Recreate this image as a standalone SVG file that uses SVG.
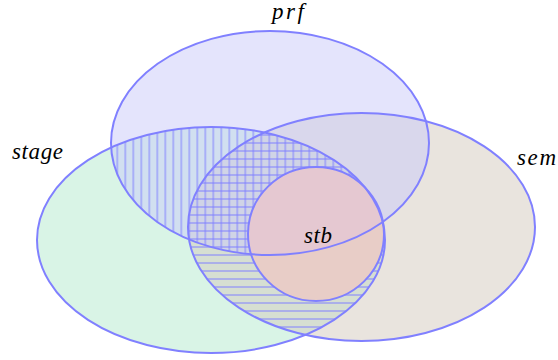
<svg xmlns="http://www.w3.org/2000/svg" xmlns:xlink="http://www.w3.org/1999/xlink" width="558" height="360" viewBox="0 0 558 360">
<style>
.outline{fill:none;stroke:#8080ff;stroke-width:2}
.hatch{stroke:#8080ff;stroke-width:1;fill:none}
.lbl{font-family:"Liberation Serif","DejaVu Serif","Times New Roman",serif;font-style:italic;font-size:23px;fill:#000}
.f{fill-opacity:0.5;stroke:none}
</style>
<defs>
<ellipse id="e-stage" cx="211" cy="240" rx="174" ry="113"/>
<ellipse id="e-sem" cx="361.5" cy="227" rx="173.5" ry="114"/>
<ellipse id="e-prf" cx="270" cy="143" rx="159" ry="112"/>
<ellipse id="e-stb" cx="316" cy="234" rx="68" ry="67"/>
<clipPath id="c-stage"><use xlink:href="#e-stage"/></clipPath>
<clipPath id="c-sem"><use xlink:href="#e-sem"/></clipPath>
<clipPath id="c-prf"><use xlink:href="#e-prf"/></clipPath>
<mask id="m-vert" maskUnits="userSpaceOnUse" x="0" y="0" width="558" height="360">
<rect width="558" height="360" fill="#fff"/>
<use xlink:href="#e-sem" fill="#000"/>
</mask>
<mask id="m-grid" maskUnits="userSpaceOnUse" x="0" y="0" width="558" height="360">
<rect width="558" height="360" fill="#fff"/>
<use xlink:href="#e-stb" fill="#000"/>
</mask>
<mask id="m-hor" maskUnits="userSpaceOnUse" x="0" y="0" width="558" height="360">
<rect width="558" height="360" fill="#fff"/>
<use xlink:href="#e-prf" fill="#000"/>
<use xlink:href="#e-stb" fill="#000"/>
</mask>
<pattern id="p-vert" patternUnits="userSpaceOnUse" x="1.3" y="0" width="8" height="8">
<line class="hatch" x1="4" y1="0" x2="4" y2="8"/>
</pattern>
<pattern id="p-hor" patternUnits="userSpaceOnUse" x="0" y="3" width="8" height="8">
<line class="hatch" x1="0" y1="4" x2="8" y2="4"/>
</pattern>
<pattern id="p-grid" patternUnits="userSpaceOnUse" x="1.3" y="3" width="8" height="8">
<line class="hatch" x1="4" y1="0" x2="4" y2="8"/>
<line class="hatch" x1="0" y1="4" x2="8" y2="4"/>
</pattern>
</defs>

<g id="stage">
<use xlink:href="#e-stage" class="f" fill="#b3e9cd"/>
<text class="lbl" x="12" y="159" textLength="51" lengthAdjust="spacing">stage</text>
</g>
<g id="sem">
<use xlink:href="#e-sem" class="f" fill="#d3c9bd"/>
<text class="lbl" x="517" y="165" textLength="39" lengthAdjust="spacing">sem</text>
</g>
<g id="prf">
<use xlink:href="#e-prf" class="f" fill="#c9c9f9"/>
<text class="lbl" x="272" y="19" textLength="32" lengthAdjust="spacing">prf</text>
</g>
<g id="stb">
<use xlink:href="#e-stb" class="f" fill="#fabbbb"/>
<text class="lbl" x="304" y="243" textLength="28" lengthAdjust="spacing">stb</text>
</g>

<g id="hatching">
<g clip-path="url(#c-prf)">
<g clip-path="url(#c-stage)">
<rect width="558" height="360" fill="url(#p-vert)" mask="url(#m-vert)"/>
<g clip-path="url(#c-sem)">
<rect width="558" height="360" fill="url(#p-grid)" mask="url(#m-grid)"/>
</g>
</g>
</g>
<g clip-path="url(#c-stage)">
<g clip-path="url(#c-sem)">
<rect width="558" height="360" fill="url(#p-hor)" mask="url(#m-hor)"/>
</g>
</g>
</g>

<g id="outlines">
<use xlink:href="#e-stage" class="outline"/>
<use xlink:href="#e-sem" class="outline"/>
<use xlink:href="#e-prf" class="outline"/>
<use xlink:href="#e-stb" class="outline"/>
</g>
</svg>
